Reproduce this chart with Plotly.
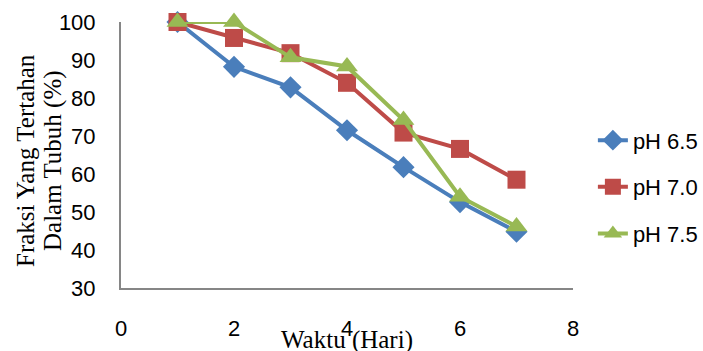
import plotly.graph_objects as go

days = [1, 2, 3, 4, 5, 6, 7]
ph65 = [100, 88.2, 82.8, 71.5, 61.8, 52.6, 44.8]
ph70 = [100, 95.8, 91.8, 84.0, 70.9, 66.6, 58.5]
ph75 = [100, 100, 90.7, 88.3, 74.2, 54.0, 46.2]
names = ["pH 6.5", "pH 7.0", "pH 7.5"]
colors = ["#4A7EBB", "#BE4B48", "#98B954"]
symbols = ["diamond", "square", "triangle-up"]
msizes = [17, 18, 19]

fig = go.Figure()
for i, ys in enumerate([ph65, ph70, ph75]):
    fig.add_trace(go.Scatter(
        x=days, y=ys, name=names[i], mode="lines+markers",
        line=dict(color=colors[i], width=4),
        marker=dict(symbol=symbols[i], size=msizes[i], color=colors[i]),
        legendgroup=f"g{i}", cliponaxis=False,
    ))

tickfont = dict(family="Liberation Sans, Arial, sans-serif", size=22, color="#000")
serif = "Liberation Serif, Times New Roman, serif"
fig.update_layout(
    width=703, height=351,
    margin=dict(l=121, r=130, t=22, b=63, autoexpand=False),
    paper_bgcolor="white", plot_bgcolor="white",
    showlegend=True,
    legend=dict(x=1.044, xanchor="left", y=0.38, yanchor="middle",
                font=dict(family="Liberation Sans, Arial, sans-serif", size=22, color="#000"),
                tracegroupgap=15, bgcolor="rgba(0,0,0,0)"),
    xaxis=dict(range=[0, 8], dtick=2, tick0=0, showgrid=False, zeroline=False,
               showline=True, linecolor="#868686", linewidth=2, ticks="",
               tickfont=tickfont, ticklabelstandoff=20, automargin=False),
    yaxis=dict(range=[30, 100], dtick=10, tick0=30, showgrid=False, zeroline=False,
               showline=True, linecolor="#868686", linewidth=2, ticks="",
               tickfont=tickfont, ticklabelstandoff=19, automargin=False),
)
fig.add_annotation(text="Waktu (Hari)", xref="paper", yref="paper", x=0.5, y=0,
                   yshift=-52, showarrow=False, yanchor="middle",
                   font=dict(family=serif, size=25, color="#000"))
fig.add_annotation(text="Fraksi Yang Tertahan", xref="paper", yref="paper",
                   x=0, y=0.5, xshift=-96, yshift=-6, showarrow=False, textangle=-90,
                   xanchor="center", yanchor="middle",
                   font=dict(family=serif, size=25, color="#000"))
fig.add_annotation(text="Dalam Tubuh (%)", xref="paper", yref="paper",
                   x=0, y=0.5, xshift=-68, yshift=-6, showarrow=False, textangle=-90,
                   xanchor="center", yanchor="middle",
                   font=dict(family=serif, size=25, color="#000"))
fig.write_html("out.html", config={"displayModeBar": False},
               post_script="document.body.style.margin='0';")
